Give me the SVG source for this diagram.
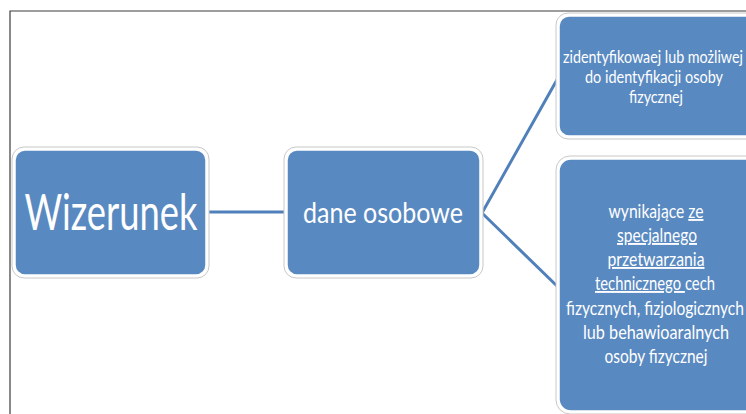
<svg xmlns="http://www.w3.org/2000/svg" width="746" height="414" viewBox="0 0 746 414">
<style>
.frame{fill:none;stroke:#3c3c3c;stroke-width:1.2}
.halo{fill:#ffffff;stroke:#c8c8c8;stroke-width:1}
.box{fill:#5989c1;stroke:#ffffff;stroke-width:1.5}
.conn{stroke:#5080ba;stroke-width:3;fill:none}
text{font-family:Lato,"Liberation Sans",sans-serif;fill:#ffffff;text-anchor:middle}
.big{font-size:50px}
.mid{font-size:29px}
.sm1{font-size:17px}
.sm2{font-size:19px}
.u{text-decoration:underline}
</style>
<rect width="746" height="414" fill="#ffffff"/>
<path class="frame" d="M10,414 V11 H746"/>
<g id="connectors">
<line class="conn" x1="207" y1="212" x2="286" y2="212"/>
<line class="conn" x1="482" y1="213" x2="558" y2="78"/>
<line class="conn" x1="482" y1="213" x2="558" y2="287"/>
</g>
<g id="node-wizerunek">
<rect class="halo" x="12" y="147" width="197" height="131" rx="12"/>
<rect class="box" x="15" y="150" width="191" height="125" rx="10"/>
<text class="big" x="111" y="230" textLength="173" lengthAdjust="spacingAndGlyphs">Wizerunek</text>
</g>
<g id="node-dane">
<rect class="halo" x="284" y="147" width="199" height="131" rx="12"/>
<rect class="box" x="287" y="150" width="193" height="125" rx="10"/>
<text class="mid" x="383" y="223" textLength="160" lengthAdjust="spacingAndGlyphs">dane osobowe</text>
</g>
<g id="node-top">
<rect class="halo" x="556" y="13" width="210" height="126" rx="12"/>
<rect class="box" x="559" y="16" width="204" height="120" rx="10"/>
<text class="sm1" x="653" y="63" textLength="180" lengthAdjust="spacingAndGlyphs">zidentyfikowaej lub możliwej</text>
<text class="sm1" x="654" y="83" textLength="138" lengthAdjust="spacingAndGlyphs">do identyfikacji osoby</text>
<text class="sm1" x="656" y="103" textLength="54" lengthAdjust="spacingAndGlyphs">fizycznej</text>
</g>
<g id="node-bottom">
<rect class="halo" x="556" y="156" width="210" height="258" rx="14"/>
<rect class="box" x="559" y="159" width="204" height="252" rx="12"/>
<text class="sm2" x="656" y="218" textLength="95" lengthAdjust="spacingAndGlyphs">wynikające <tspan class="u">ze</tspan></text>
<text class="sm2 u" x="657" y="242" textLength="80" lengthAdjust="spacingAndGlyphs">specjalnego</text>
<text class="sm2 u" x="656" y="266" textLength="97" lengthAdjust="spacingAndGlyphs">przetwarzania</text>
<text class="sm2" x="655" y="290" textLength="120" lengthAdjust="spacingAndGlyphs"><tspan class="u">technicznego </tspan>cech</text>
<text class="sm2" x="655" y="315" textLength="178" lengthAdjust="spacingAndGlyphs">fizycznych, fizjologicznych</text>
<text class="sm2" x="656" y="339" textLength="146" lengthAdjust="spacingAndGlyphs">lub behawioaralnych</text>
<text class="sm2" x="656" y="363" textLength="103" lengthAdjust="spacingAndGlyphs">osoby fizycznej</text>
</g>
</svg>
